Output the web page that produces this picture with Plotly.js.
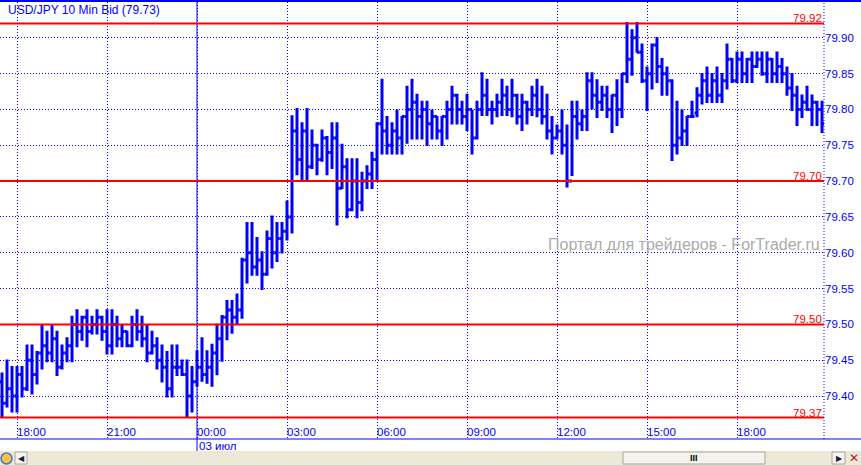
<!DOCTYPE html>
<html>
<head>
<meta charset="utf-8">
<script src="https://cdn.plot.ly/plotly-3.0.1.min.js"></script>
<style>
  html, body { margin: 0; padding: 0; background: #ffffff; }
  #chart { width: 861px; height: 465px; }
</style>
</head>
<body>
<div id="chart"></div>
<script>
// USD/JPY 10-minute bid bars, 02 Jul 17:30 through 03 Jul 20:50
const firstBar = { day: 2, minutes: 17 * 60 + 30 };
const barMinutes = 10;

const openPx = [
  79.42, 79.39, 79.41, 79.40, 79.43, 79.41, 79.45, 79.43, 79.46, 79.47,
  79.46, 79.48, 79.44, 79.46, 79.47, 79.50, 79.49, 79.51, 79.49, 79.50,
  79.51, 79.49, 79.47, 79.50, 79.48, 79.49, 79.47, 79.50, 79.49, 79.48,
  79.46, 79.47, 79.45, 79.44, 79.41, 79.44, 79.44, 79.43, 79.40, 79.42,
  79.44, 79.43, 79.44, 79.46, 79.48, 79.51, 79.52, 79.51, 79.52, 79.59,
  79.60, 79.58, 79.59, 79.57, 79.62, 79.60, 79.62, 79.63, 79.65, 79.77,
  79.73, 79.77, 79.72, 79.75, 79.73, 79.76, 79.74, 79.76, 79.69, 79.72,
  79.66, 79.70, 79.67, 79.70, 79.71, 79.73, 79.78, 79.77, 79.75, 79.77,
  79.76, 79.79, 79.80, 79.81, 79.79, 79.80, 79.78, 79.79, 79.77, 79.79,
  79.80, 79.82, 79.80, 79.79, 79.80, 79.76, 79.80, 79.82, 79.80, 79.80,
  79.81, 79.82, 79.80, 79.82, 79.79, 79.81, 79.80, 79.82, 79.80, 79.79,
  79.77, 79.76, 79.77, 79.75, 79.70, 79.79, 79.78, 79.79, 79.84, 79.82,
  79.81, 79.82, 79.80, 79.82, 79.80, 79.85, 79.87, 79.90, 79.88, 79.84,
  79.85, 79.89, 79.86, 79.85, 79.84, 79.75, 79.76, 79.77, 79.79, 79.795,
  79.82, 79.84, 79.82, 79.84, 79.82, 79.84, 79.87, 79.84, 79.87, 79.85,
  79.87, 79.86, 79.87, 79.85, 79.87, 79.85, 79.86, 79.85, 79.83, 79.82,
  79.80, 79.81, 79.80, 79.81, 79.80
];
const highPx = [
  79.433, 79.451, 79.442, 79.442, 79.442, 79.472, 79.472, 79.463, 79.500, 79.491,
  79.500, 79.491, 79.472, 79.482, 79.512, 79.521, 79.512, 79.521, 79.512, 79.521,
  79.512, 79.521, 79.521, 79.512, 79.500, 79.491, 79.512, 79.521, 79.512, 79.500,
  79.491, 79.482, 79.472, 79.463, 79.472, 79.472, 79.451, 79.451, 79.442, 79.464,
  79.482, 79.464, 79.473, 79.501, 79.513, 79.534, 79.534, 79.543, 79.593, 79.643,
  79.643, 79.622, 79.602, 79.631, 79.652, 79.643, 79.643, 79.673, 79.792, 79.802,
  79.782, 79.802, 79.772, 79.752, 79.772, 79.763, 79.782, 79.782, 79.752, 79.732,
  79.732, 79.732, 79.713, 79.722, 79.741, 79.782, 79.843, 79.791, 79.782, 79.800,
  79.791, 79.833, 79.843, 79.822, 79.812, 79.812, 79.800, 79.791, 79.791, 79.812,
  79.833, 79.822, 79.812, 79.822, 79.800, 79.812, 79.852, 79.843, 79.812, 79.822,
  79.843, 79.833, 79.843, 79.822, 79.822, 79.812, 79.833, 79.843, 79.833, 79.822,
  79.791, 79.779, 79.800, 79.779, 79.812, 79.812, 79.800, 79.852, 79.852, 79.842,
  79.833, 79.833, 79.821, 79.842, 79.851, 79.922, 79.912, 79.922, 79.892, 79.860,
  79.892, 79.901, 79.872, 79.860, 79.842, 79.812, 79.800, 79.791, 79.812, 79.831,
  79.851, 79.860, 79.851, 79.860, 79.851, 79.892, 79.872, 79.881, 79.881, 79.872,
  79.881, 79.881, 79.881, 79.881, 79.872, 79.881, 79.872, 79.860, 79.851, 79.833,
  79.821, 79.833, 79.821, 79.812, 79.812
];
const lowPx = [
  79.370, 79.384, 79.377, 79.377, 79.398, 79.407, 79.402, 79.416, 79.437, 79.447,
  79.447, 79.428, 79.437, 79.447, 79.447, 79.468, 79.477, 79.468, 79.486, 79.486,
  79.477, 79.458, 79.458, 79.468, 79.468, 79.468, 79.468, 79.477, 79.468, 79.447,
  79.458, 79.437, 79.419, 79.398, 79.398, 79.428, 79.428, 79.370, 79.377, 79.413,
  79.420, 79.417, 79.413, 79.429, 79.448, 79.478, 79.487, 79.499, 79.508, 79.557,
  79.568, 79.568, 79.548, 79.568, 79.578, 79.587, 79.599, 79.617, 79.627, 79.708,
  79.699, 79.699, 79.717, 79.708, 79.727, 79.708, 79.717, 79.638, 79.689, 79.648,
  79.658, 79.648, 79.658, 79.689, 79.689, 79.699, 79.737, 79.737, 79.737, 79.737,
  79.737, 79.752, 79.758, 79.758, 79.758, 79.749, 79.758, 79.758, 79.749, 79.758,
  79.779, 79.779, 79.779, 79.770, 79.737, 79.758, 79.791, 79.791, 79.779, 79.789,
  79.791, 79.791, 79.789, 79.779, 79.770, 79.779, 79.791, 79.789, 79.779, 79.758,
  79.737, 79.758, 79.737, 79.691, 79.707, 79.758, 79.770, 79.770, 79.800, 79.788,
  79.798, 79.788, 79.767, 79.777, 79.788, 79.837, 79.847, 79.879, 79.837, 79.798,
  79.828, 79.837, 79.819, 79.819, 79.728, 79.737, 79.749, 79.749, 79.788, 79.789,
  79.807, 79.809, 79.809, 79.809, 79.809, 79.828, 79.837, 79.837, 79.837, 79.837,
  79.837, 79.858, 79.847, 79.837, 79.837, 79.837, 79.837, 79.819, 79.798, 79.777,
  79.788, 79.798, 79.777, 79.777, 79.767
];
const closePx = [
  79.39, 79.41, 79.40, 79.43, 79.41, 79.45, 79.43, 79.46, 79.47, 79.46,
  79.48, 79.44, 79.46, 79.47, 79.50, 79.49, 79.51, 79.49, 79.50, 79.51,
  79.49, 79.47, 79.50, 79.48, 79.49, 79.47, 79.50, 79.49, 79.48, 79.46,
  79.47, 79.45, 79.44, 79.41, 79.44, 79.44, 79.43, 79.40, 79.42, 79.44,
  79.43, 79.44, 79.46, 79.48, 79.51, 79.52, 79.51, 79.52, 79.59, 79.60,
  79.58, 79.59, 79.57, 79.62, 79.60, 79.62, 79.63, 79.65, 79.77, 79.73,
  79.77, 79.72, 79.75, 79.73, 79.76, 79.74, 79.76, 79.69, 79.72, 79.66,
  79.70, 79.67, 79.70, 79.71, 79.73, 79.78, 79.77, 79.75, 79.77, 79.76,
  79.79, 79.80, 79.81, 79.79, 79.80, 79.78, 79.79, 79.77, 79.79, 79.80,
  79.82, 79.80, 79.79, 79.80, 79.76, 79.80, 79.82, 79.80, 79.80, 79.81,
  79.82, 79.80, 79.82, 79.79, 79.81, 79.80, 79.82, 79.80, 79.79, 79.77,
  79.76, 79.77, 79.75, 79.70, 79.79, 79.78, 79.79, 79.84, 79.82, 79.81,
  79.82, 79.80, 79.82, 79.80, 79.85, 79.87, 79.90, 79.88, 79.84, 79.85,
  79.89, 79.86, 79.85, 79.84, 79.75, 79.76, 79.77, 79.79, 79.79, 79.82,
  79.84, 79.82, 79.84, 79.82, 79.84, 79.87, 79.84, 79.87, 79.85, 79.87,
  79.86, 79.87, 79.85, 79.87, 79.85, 79.86, 79.85, 79.83, 79.82, 79.80,
  79.81, 79.80, 79.81, 79.80, 79.78
];

// Horizontal marker levels and price grid
const levels = [79.92, 79.70, 79.50, 79.37];
const priceTicks = [79.40, 79.45, 79.50, 79.55, 79.60, 79.65, 79.70, 79.75, 79.80, 79.85, 79.90];
const chartTitle = 'USD/JPY 10 Min Bid (79.73)';
const dayLabel = '03 июл';
const dayStart = '2012-07-03 00:00';
const watermark = 'Портал для трейдеров - ForTrader.ru';

const pad2 = n => String(n).padStart(2, '0');
function barTime(i) {
  const m = firstBar.minutes + barMinutes * i;
  const day = firstBar.day + Math.floor(m / 1440);
  const mm = m % 1440;
  return '2012-07-' + pad2(day) + ' ' + pad2(Math.floor(mm / 60)) + ':' + pad2(mm % 60);
}
const times = openPx.map((_, i) => barTime(i));

const BLUE = '#0000ff';
const RED = '#ff0000';
const FONT = 'Liberation Sans, Arial, sans-serif';

// plot box in pixels: x 0..824, y 2..439
const PW = 824, PT = 2, PB = 439, PH = PB - PT;
const px = X => X / PW;
const py = Y => (PB - Y) / PH;

const trace = {
  type: 'ohlc',
  x: times,
  open: openPx, high: highPx, low: lowPx, close: closePx,
  increasing: { line: { color: BLUE, width: 3 } },
  decreasing: { line: { color: BLUE, width: 3 } },
  tickwidth: 0.5,
  hoverinfo: 'skip'
};

const shapes = [];
// scroll strip at the very bottom
shapes.push({ type: 'rect', xref: 'paper', yref: 'paper', x0: 0, x1: px(861), y0: py(465), y1: py(451),
  fillcolor: '#ece9d8', line: { width: 0 }, layer: 'below' });
shapes.push({ type: 'circle', xref: 'paper', yref: 'paper', x0: px(1), x1: px(12), y0: py(464), y1: py(453),
  fillcolor: '#f2c447', line: { color: '#4a78c0', width: 1.5 } });
shapes.push({ type: 'rect', xref: 'paper', yref: 'paper', x0: px(15), x1: px(27), y0: py(464), y1: py(452),
  fillcolor: '#f4f3ee', line: { color: '#a8a698', width: 1 } });
shapes.push({ type: 'rect', xref: 'paper', yref: 'paper', x0: px(623), x1: px(765), y0: py(464), y1: py(452),
  fillcolor: '#f4f3ee', line: { color: '#a8a698', width: 1 } });
shapes.push({ type: 'rect', xref: 'paper', yref: 'paper', x0: px(832), x1: px(845), y0: py(464), y1: py(452),
  fillcolor: '#f4f3ee', line: { color: '#a8a698', width: 1 } });
// frame lines
shapes.push({ type: 'line', xref: 'paper', yref: 'paper', x0: 0, x1: px(861), y0: py(1), y1: py(1),
  line: { color: BLUE, width: 2 } });
shapes.push({ type: 'line', xref: 'paper', yref: 'paper', x0: 0, x1: px(861), y0: 0, y1: 0,
  line: { color: BLUE, width: 1 } });
shapes.push({ type: 'line', xref: 'paper', yref: 'paper', x0: 1, x1: 1, y0: 0, y1: 1,
  line: { color: BLUE, width: 1, dash: '1px,2px' } });
// day separator
shapes.push({ type: 'line', xref: 'x', yref: 'paper', x0: dayStart, x1: dayStart, y0: py(451), y1: 1,
  line: { color: BLUE, width: 1 } });
// marker levels
levels.forEach(v => shapes.push({ type: 'line', xref: 'paper', yref: 'y', x0: 0, x1: 1, y0: v, y1: v,
  line: { color: RED, width: 2 } }));

const annotations = [];
annotations.push({ xref: 'paper', yref: 'paper', x: px(6), y: py(1), xanchor: 'left', yanchor: 'top',
  text: chartTitle, showarrow: false, font: { family: FONT, size: 12, color: BLUE } });
levels.forEach(v => annotations.push({ xref: 'paper', yref: 'y', x: px(823), y: v, xanchor: 'right', yanchor: 'bottom',
  yshift: -2, text: v.toFixed(2), showarrow: false, borderpad: 0, font: { family: FONT, size: 11.5, color: RED } }));
annotations.push({ xref: 'paper', yref: 'paper', x: px(822), y: py(244), xanchor: 'right', yanchor: 'middle',
  text: watermark, showarrow: false, font: { family: FONT, size: 16, color: '#ababab' } });
annotations.push({ xref: 'x', yref: 'paper', x: dayStart, y: py(445.5), xanchor: 'left', yanchor: 'middle', xshift: 1,
  text: dayLabel, showarrow: false, borderpad: 0, font: { family: FONT, size: 11.5, color: BLUE } });
annotations.push({ xref: 'paper', yref: 'paper', x: px(21), y: py(458), xanchor: 'center', yanchor: 'middle',
  text: '◀', showarrow: false, font: { family: 'DejaVu Sans', size: 8, color: '#1a1a40' } });
annotations.push({ xref: 'paper', yref: 'paper', x: px(839), y: py(458), xanchor: 'center', yanchor: 'middle',
  text: '▶', showarrow: false, font: { family: 'DejaVu Sans', size: 8, color: '#1a1a40' } });
annotations.push({ xref: 'paper', yref: 'paper', x: px(694), y: py(458), xanchor: 'center', yanchor: 'middle',
  text: '<b>III</b>', showarrow: false, font: { family: FONT, size: 9, color: '#000000' } });
annotations.push({ xref: 'paper', yref: 'paper', x: px(854), y: py(458), xanchor: 'center', yanchor: 'middle',
  text: '✕', showarrow: false, font: { family: 'DejaVu Sans', size: 12, color: '#c02020' } });

const layout = {
  width: 861, height: 465,
  margin: { l: 0, r: 861 - PW, t: PT, b: 465 - PB, pad: 0 },
  paper_bgcolor: '#ffffff', plot_bgcolor: '#ffffff',
  showlegend: false,
  xaxis: {
    type: 'date',
    range: [barTime(-0.4), barTime(164.4)],
    tick0: '2012-07-02 18:00', dtick: 3 * 3600 * 1000,
    tickformat: '%H:%M',
    ticklabelposition: 'inside right',
    ticklabelstandoff: -5,
    ticks: '', showline: false, zeroline: false,
    showgrid: true, gridcolor: BLUE, gridwidth: 1, griddash: '1px,2px',
    tickfont: { family: FONT, size: 11.5, color: BLUE },
    rangeslider: { visible: false },
    fixedrange: true
  },
  yaxis: {
    side: 'right',
    range: [79.340, 79.950],
    tickvals: priceTicks,
    ticktext: priceTicks.map(v => v.toFixed(2)),
    ticks: '', showline: false, zeroline: false,
    showgrid: true, gridcolor: BLUE, gridwidth: 1, griddash: '1px,2px',
    tickfont: { family: FONT, size: 11.5, color: BLUE },
    fixedrange: true
  },
  shapes: shapes,
  annotations: annotations
};

Plotly.newPlot('chart', [trace], layout, { displayModeBar: false, staticPlot: true });
</script>
</body>
</html>
